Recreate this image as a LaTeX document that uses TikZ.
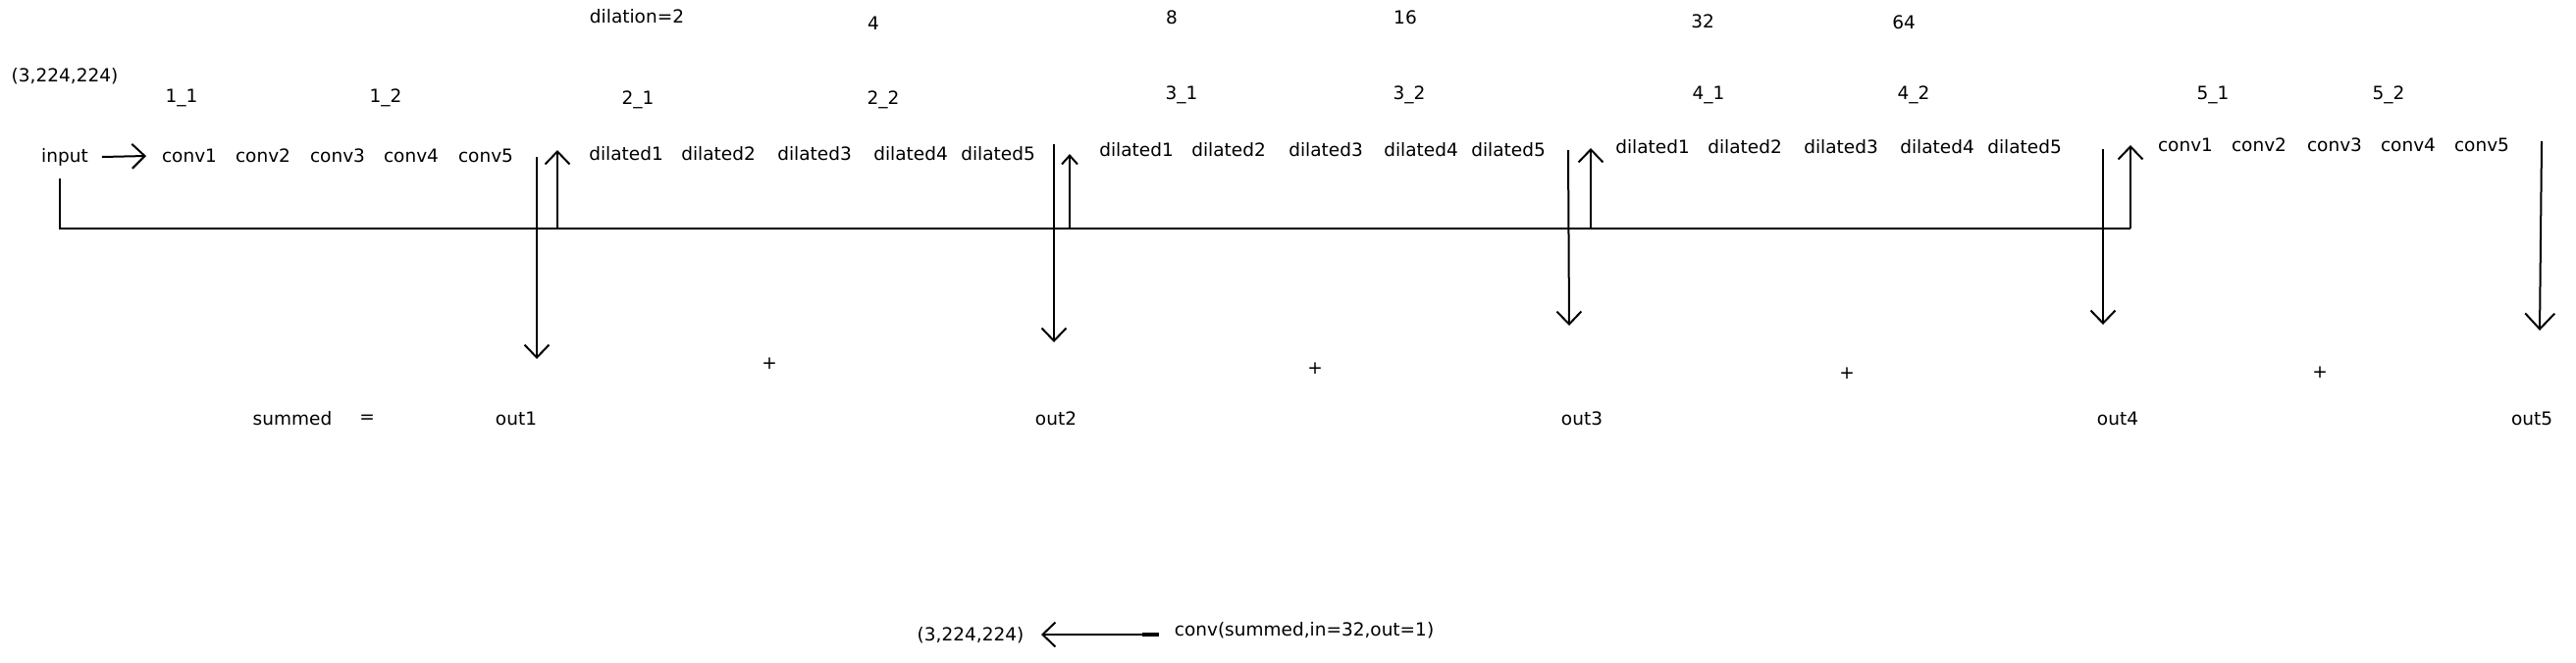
\documentclass[tikz,border=0pt]{standalone}
\usepackage{fontspec}
\setmainfont{DejaVu Sans}
\usetikzlibrary{arrows.meta}
\begin{document}
\begin{tikzpicture}[x=1pt,y=-1pt,
  lbl/.style={inner sep=0pt, font=\fontsize{18.5}{22}\selectfont, anchor=center},
  ln/.style={line width=2pt},
  arr/.style={ln, -{Straight Barb[length=13pt,width=25pt,line width=2pt]}},
  arrsmall/.style={ln, -{Straight Barb[length=9pt,width=16pt,line width=2pt]}},
  arrbig/.style={ln, -{Straight Barb[length=16pt,width=30pt,line width=2pt]}}]
\useasboundingbox (0,0) rectangle (2625,675);
% top row
\node[lbl] (dil2) at (649,17) {dilation=2};
\node[lbl] (d4) at (890,24) {4};
\node[lbl] (d8) at (1194,18) {8};
\node[lbl] (d16) at (1432,18) {16};
\node[lbl] (d32) at (1735,22) {32};
\node[lbl] (d64) at (1940,23) {64};
% second row
\node[lbl] (shape) at (66,78) {(3,224,224)};
\node[lbl] (b11) at (185,100) {1\_1};
\node[lbl] (b12) at (393,100) {1\_2};
\node[lbl] (b21) at (650,102) {2\_1};
\node[lbl] (b22) at (900,102) {2\_2};
\node[lbl] (b31) at (1204,97) {3\_1};
\node[lbl] (b32) at (1436,97) {3\_2};
\node[lbl] (b41) at (1741,97) {4\_1};
\node[lbl] (b42) at (1950,97) {4\_2};
\node[lbl] (b51) at (2255,97) {5\_1};
\node[lbl] (b52) at (2434,97) {5\_2};
% layer row
\node[lbl] (input) at (66,160) {input};
\node[lbl] (a1) at (193,159) {conv1};
\node[lbl] (a2) at (268,159) {conv2};
\node[lbl] (a3) at (344,159) {conv3};
\node[lbl] (a4) at (419,159) {conv4};
\node[lbl] (a5) at (495,159) {conv5};
\node[lbl] (c1) at (638,157) {dilated1};
\node[lbl] (c2) at (732,157) {dilated2};
\node[lbl] (c3) at (830,157) {dilated3};
\node[lbl] (c4) at (928,157) {dilated4};
\node[lbl] (c5) at (1017,157) {dilated5};
\node[lbl] (e1) at (1158,153) {dilated1};
\node[lbl] (e2) at (1252,153) {dilated2};
\node[lbl] (e3) at (1351,153) {dilated3};
\node[lbl] (e4) at (1448,153) {dilated4};
\node[lbl] (e5) at (1537,153) {dilated5};
\node[lbl] (f1) at (1684,150) {dilated1};
\node[lbl] (f2) at (1778,150) {dilated2};
\node[lbl] (f3) at (1876,150) {dilated3};
\node[lbl] (f4) at (1974,150) {dilated4};
\node[lbl] (f5) at (2063,150) {dilated5};
\node[lbl] (g1) at (2227,148) {conv1};
\node[lbl] (g2) at (2302,148) {conv2};
\node[lbl] (g3) at (2379,148) {conv3};
\node[lbl] (g4) at (2454,148) {conv4};
\node[lbl] (g5) at (2529,148) {conv5};
% bottom row
\node[lbl] (summed) at (298,427) {summed};
\node[lbl] (eq) at (374,427) {=};
\node[lbl] (out1) at (526,427) {out1};
\node[lbl] (p1) at (784,371) {+};
\node[lbl] (out2) at (1076,427) {out2};
\node[lbl] (p2) at (1340,376) {+};
\node[lbl] (out3) at (1612,427) {out3};
\node[lbl] (p3) at (1882,381) {+};
\node[lbl] (out4) at (2158,427) {out4};
\node[lbl] (p4) at (2364,380) {+};
\node[lbl] (out5) at (2580,427) {out5};
\node[lbl] (res) at (989,648) {(3,224,224)};
\node[lbl] (final) at (1329,643) {conv(summed,in=32,out=1)};
% coordinates
\coordinate (inA) at (104,160);
\coordinate (inB) at (149,159);
\coordinate (inDown) at (61,182);
\coordinate (inCorner) at (61,233);
\coordinate (s1top) at (547,160);  \coordinate (s1tip) at (547,366);
\coordinate (u1base) at (568,233); \coordinate (u1tip) at (568,153);
\coordinate (s2top) at (1074,147); \coordinate (s2tip) at (1074,349);
\coordinate (u2base) at (1090,232); \coordinate (u2tip) at (1090,157);
\coordinate (s3top) at (1598,153); \coordinate (s3tip) at (1599,332);
\coordinate (u3base) at (1621,233); \coordinate (u3tip) at (1621,151);
\coordinate (s4top) at (2143,152); \coordinate (s4tip) at (2143,331);
\coordinate (u4base) at (2171,233); \coordinate (u4tip) at (2171,148);
\coordinate (s5top) at (2590,144); \coordinate (s5tip) at (2588,337);
\coordinate (fA) at (1181,647); \coordinate (fB) at (1061,647);
\coordinate (fS) at (1164,647);
% connectors
\draw[arr] (inA) -- (inB);
\draw[ln] (inDown) -- (inCorner) -- (u4base);
\draw[arr] (s1top) -- (s1tip);
\draw[arr] (u1base) -- (u1tip);
\draw[arr] (s2top) -- (s2tip);
\draw[arrsmall] (u2base) -- (u2tip);
\draw[arr] (s3top) -- (s3tip);
\draw[arr] (u3base) -- (u3tip);
\draw[arr] (s4top) -- (s4tip);
\draw[arr] (u4base) -- (u4tip);
\draw[arrbig] (s5top) -- (s5tip);
\draw[arr] (fA) -- (fB);
\draw[line width=4pt] (fA) -- (fS);
\end{tikzpicture}
\end{document}
